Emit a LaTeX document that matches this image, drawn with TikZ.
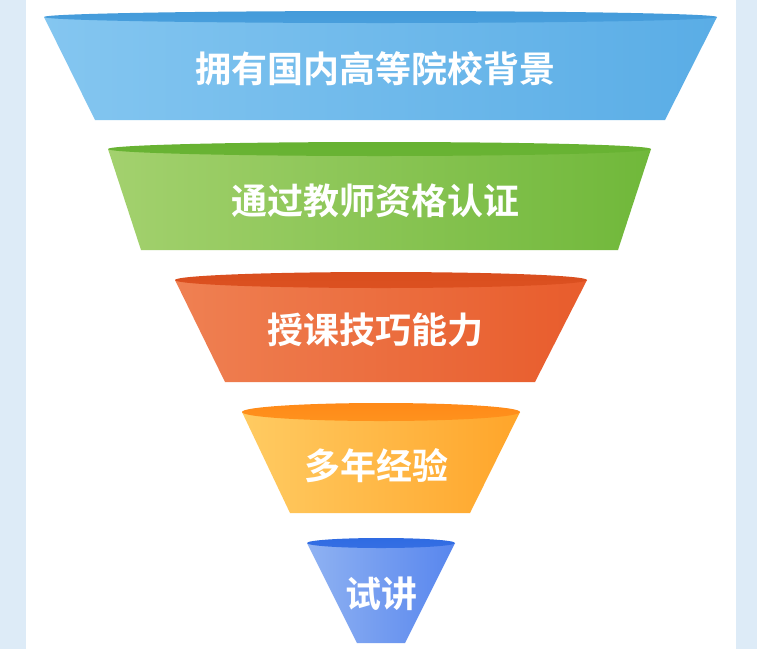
\documentclass[tikz,border=0pt]{standalone}
\usepackage{fontspec}
\newfontfamily\cjk{Noto Sans CJK SC}[BoldFont={Noto Sans CJK SC Bold}]
\begin{document}
\begin{tikzpicture}[x=1pt,y=-1pt,
  lbl/.style={text=white,font=\cjk\bfseries\fontsize{36}{36}\selectfont,inner sep=0pt}]
\useasboundingbox (0,0) rectangle (757,649);
\fill[white] (0,0) rectangle (757,649);
\fill[fill={rgb,255:red,221;green,235;blue,247}] (0,0) rectangle (26,649);
\fill[fill={rgb,255:red,221;green,235;blue,247}] (736,0) rectangle (757,649);
\definecolor{aL}{HTML}{84C6F0}\definecolor{aR}{HTML}{5AADE6}\definecolor{aT}{HTML}{449BDA}
\definecolor{bL}{HTML}{A3D16E}\definecolor{bR}{HTML}{70B83A}\definecolor{bT}{HTML}{67B232}
\definecolor{cL}{HTML}{EF8052}\definecolor{cR}{HTML}{E85C2C}\definecolor{cT}{HTML}{D94E1E}
\definecolor{dL}{HTML}{FFCB62}\definecolor{dR}{HTML}{FFA52A}\definecolor{dT}{HTML}{FF8A18}
\definecolor{eL}{HTML}{8FB2F2}\definecolor{eR}{HTML}{5886EE}\definecolor{eT}{HTML}{2F6BE2}
% layer 1
\shade[left color=aL,right color=aR] (44,17) -- (95,120) -- (665,120) -- (717,17) -- cycle;
\shade[top color=aT,bottom color=aT!80!aR] (380.5,17) ellipse [x radius=336.5,y radius=6];
\node[lbl] (t1) at (375,69) {拥有国内高等院校背景};
% layer 2
\shade[left color=bL,right color=bR] (108,149) -- (141,250) -- (618,250) -- (651,149) -- cycle;
\shade[top color=bT,bottom color=bT!80!bR] (379.5,149) ellipse [x radius=271.5,y radius=7];
\node[lbl] (t2) at (375,201) {通过教师资格认证};
% layer 3
\shade[left color=cL,right color=cR] (175,280) -- (225,382) -- (535,382) -- (587,280) -- cycle;
\shade[top color=cT,bottom color=cT!80!cR] (381,280) ellipse [x radius=206,y radius=8];
\node[lbl] (t3) at (375,330) {授课技巧能力};
% layer 4
\shade[left color=dL,right color=dR] (242,412) -- (290,513) -- (470,513) -- (520,412) -- cycle;
\shade[top color=dT,bottom color=dT!70!dR] (381,412) ellipse [x radius=139,y radius=9];
\node[lbl] (t4) at (376,466) {多年经验};
% layer 5
\shade[left color=eL,right color=eR] (307,543) -- (357,643) -- (405,643) -- (455,543) -- cycle;
\shade[top color=eT,bottom color=eT!85!eR] (381,543) ellipse [x radius=74,y radius=5];
\node[lbl] (t5) at (381,594) {试讲};
\end{tikzpicture}
\end{document}
